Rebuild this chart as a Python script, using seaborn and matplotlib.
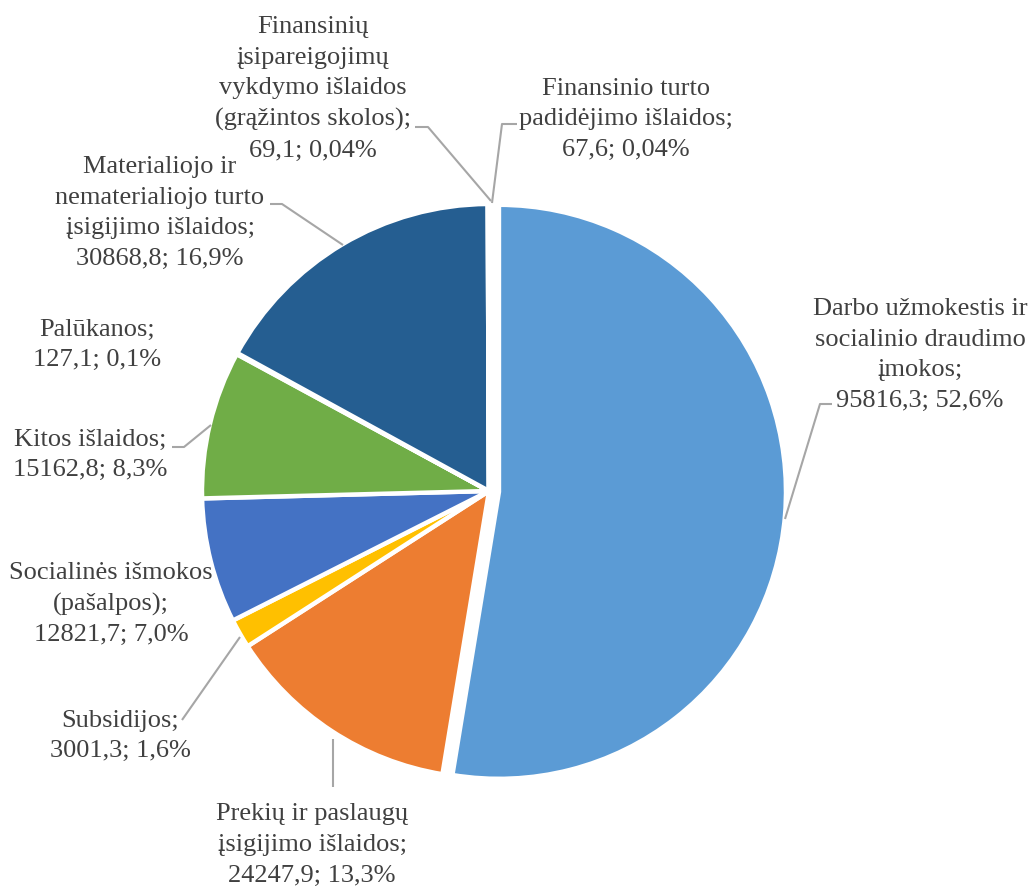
import numpy as np
import matplotlib
matplotlib.use("Agg")
import matplotlib.pyplot as plt
import seaborn as sns

# data (clockwise from 12 o'clock)
labels = [
    "Darbo užmokestis ir\nsocialinio draudimo\nįmokos",
    "Prekių ir paslaugų\nįsigijimo išlaidos",
    "Subsidijos",
    "Socialinės išmokos\n(pašalpos)",
    "Kitos išlaidos",
    "Palūkanos",
    "Materialiojo ir\nnematerialiojo turto\nįsigijimo išlaidos",
    "Finansinių\nįsipareigojimų\nvykdymo išlaidos\n(grąžintos skolos)",
    "Finansinio turto\npadidėjimo išlaidos",
]
values = [95816.3, 24247.9, 3001.3, 12821.7, 15162.8, 127.1, 30868.8, 69.1, 67.6]
pct_text = ["52,6%", "13,3%", "1,6%", "7,0%", "8,3%", "0,1%", "16,9%", "0,04%", "0,04%"]
colors = ["#5B9BD5", "#ED7D31", "#FFC000", "#4472C4", "#70AD47",
          "#A5A5A5", "#255E91", "#636363", "#9E480E"]

# label placement in pixel coords (x, y from top)
label_pos = [(920, 355), (312, 845), (120, 736), (111, 604), (90, 455),
             (97, 345), (160, 213), (313, 89), (626, 119)]
# leader lines (pixel coords, y from top)
leaders = [
    [(832, 405), (820, 405), (785, 520)],
    [(333, 788), (333, 740)],
    [(182, 721), (240, 638)],
    None,
    [(172, 448), (184, 448), (211, 426)],
    None,
    [(270, 205), (282, 205), (343, 246)],
    [(415, 128), (428, 128), (491, 202)],
    [(517, 125), (502, 125), (492, 204)],
]

W, H = 1031, 887
sns.set_style("white")
plt.rcParams["font.family"] = ["Liberation Serif", "DejaVu Serif"]

fig = plt.figure(figsize=(W / 100, H / 100), dpi=100)
ax = fig.add_axes([0, 0, 1, 1])

cx, cy, r = 489, H - 492, 287
explode = [10] + [0] * (len(values) - 1)  # offset in data (pixel) units
ax.pie(values, colors=colors, startangle=90, counterclock=False,
       center=(cx, cy), radius=r, explode=explode, frame=True,
       wedgeprops=dict(edgecolor="white", linewidth=3.2))
ax.set_xlim(0, W)
ax.set_ylim(0, H)
ax.set_aspect("equal")
ax.axis("off")

line_col = "#A6A6A6"
for pts in leaders:
    if pts is None:
        continue
    xs = [p[0] for p in pts]
    ys = [H - p[1] for p in pts]
    ax.plot(xs, ys, color=line_col, lw=1.5, solid_capstyle="butt")

for lab, v, p, (x, y) in zip(labels, values, pct_text, label_pos):
    txt = f"{lab};\n{v:.1f}".replace(".", ",") + f"; {p}"
    ax.text(x, H - y, txt, ha="center", va="center", multialignment="center",
            fontsize=19, color="#404040", linespacing=1.5)

fig.savefig("out.png", dpi=100)
